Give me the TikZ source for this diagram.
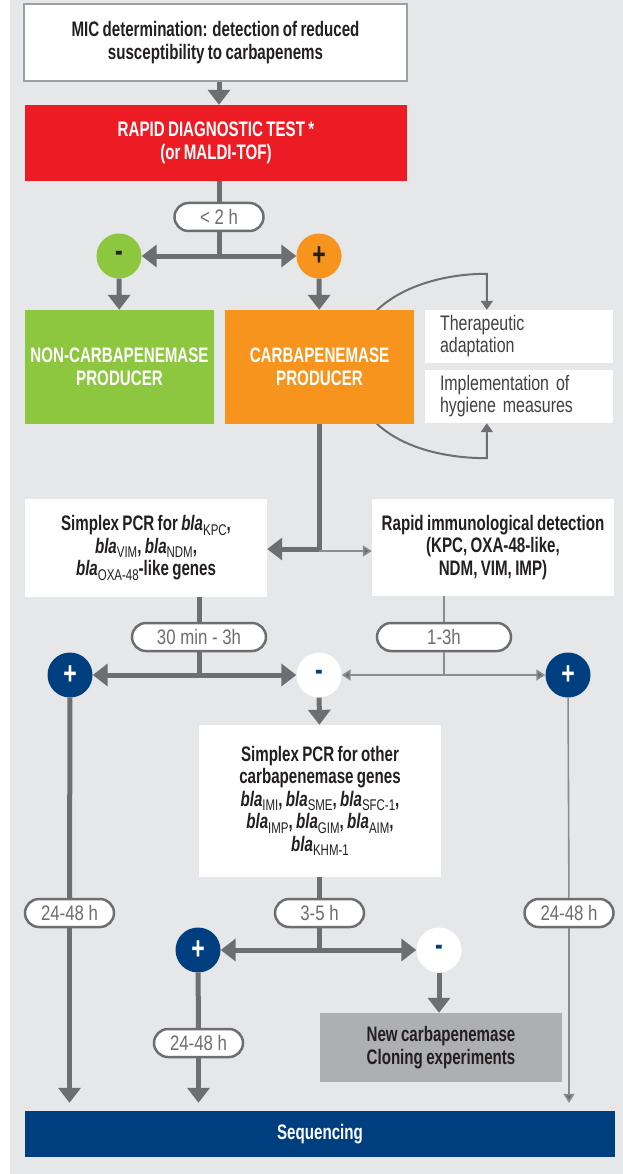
\documentclass[tikz,border=0pt]{standalone}
\usepackage{fontspec}
\setmainfont{Liberation Sans}[FakeStretch=0.72,WordSpace=0.8]
\newfontfamily\pillfont{Liberation Sans}[FakeStretch=0.8]
\newfontfamily\thinfont{Liberation Sans}[FakeStretch=0.76]
\newfontfamily\subfont{Liberation Sans}[FakeStretch=0.74]
\usetikzlibrary{arrows.meta,calc}
\pgfdeclarelayer{bglayer}
\pgfdeclarelayer{curvelayer}
\pgfsetlayers{bglayer,curvelayer,main}
\definecolor{bgc}{HTML}{E6E7E8}
\definecolor{lgray}{HTML}{6D6E71}
\definecolor{tgray}{HTML}{8A8C8F}
\definecolor{bordg}{HTML}{9D9FA2}
\definecolor{rdtred}{HTML}{ED1C24}
\definecolor{cgreen}{HTML}{8DC63F}
\definecolor{corange}{HTML}{F7941D}
\definecolor{navy}{HTML}{003F7F}
\definecolor{greybox}{HTML}{ADAFB2}
\definecolor{dtext}{HTML}{231F20}
\definecolor{mtext}{HTML}{414042}
\newcommand{\gsub}[1]{\raisebox{-4.5pt}{\subfont\mdseries\upshape\fontsize{15.5}{15.5}\selectfont #1}}
\newcommand{\bla}{\textit{bla}}
\newcommand{\tightsp}{\spaceskip=3.6pt plus 1pt\relax}
\tikzset{
  box/.style={rectangle, inner sep=0pt, align=center, font=\fontsize{21}{22.5}\selectfont\bfseries},
  wbox/.style={box, fill=white, text=dtext},
  pill/.style={rectangle, rounded corners=14pt, draw=lgray, line width=2.5pt, fill=white,
    minimum width=89pt, minimum height=28pt, inner sep=0pt, text=lgray, font=\pillfont\fontsize{21}{22}\selectfont},
  circ/.style={circle, minimum size=45pt, inner sep=0pt, font=\fontsize{32}{32}\selectfont\bfseries},
  thickl/.style={draw=lgray, line width=5pt},
  thicka/.style={draw=lgray, line width=5pt, -{Triangle[width=22pt,length=15pt]}},
  thinl/.style={draw=tgray, line width=1.6pt},
  thina/.style={draw=tgray, line width=1.6pt, -{Triangle[width=11pt,length=9pt,fill=lgray]}},
  curvea/.style={draw=lgray, line width=2pt, -{Triangle[width=12pt,length=9pt]}},
  sidebox/.style={rectangle, inner sep=0pt, fill=white, text=mtext, minimum width=188pt, minimum height=53pt,
    align=left, text width=158pt, font=\thinfont\fontsize{21}{22}\selectfont\tightsp},
}
\begin{document}
\begin{tikzpicture}[x=1pt,y=-1pt]
\useasboundingbox (0,0) rectangle (623,1174);
\begin{pgfonlayer}{bglayer}
\fill[bgc] (10,0) rectangle (623,1174);
\end{pgfonlayer}

% top
\node[wbox, draw=bordg, line width=2pt, minimum width=383pt, minimum height=77pt] (mic) at (215.5,42.5)
  {MIC determination: detection of reduced\\susceptibility to carbapenems};
\node[box, fill=rdtred, minimum width=382pt, minimum height=76pt, text=white] (rdt) at (216,143)
  {RAPID DIAGNOSTIC TEST *\\(or MALDI-TOF)};
\node[pill] (p1) at (219,217) {< 2 h};
\node[circ, fill=cgreen, text=dtext] (cneg) at (119,256) {-};
\node[circ, fill=corange, text=dtext] (cpos) at (319,256) {+};
\coordinate (j1) at (219,256);

\node[box, fill=cgreen, text=white, minimum width=189pt, minimum height=114pt] (ncp) at (119.5,367)
  {NON-CARBAPENEMASE\\PRODUCER};
\node[box, fill=corange, text=white, minimum width=189pt, minimum height=114pt] (cp) at (319.5,367)
  {CARBAPENEMASE\\PRODUCER};
\node[sidebox] (ther) at (519,336.5) {Therapeutic\\adaptation};
\node[sidebox] (hyg) at (519,396.5) {Implementation of\\hygiene measures};

% second level
\node[wbox, minimum width=242pt, minimum height=98pt] (pcr1) at (146,548)
  {Simplex PCR for \bla\gsub{KPC},\\\bla\gsub{VIM}, \bla\gsub{NDM},\\\bla\gsub{OXA-48}-like genes};
\node[wbox, minimum width=242pt, minimum height=97pt] (rid) at (493,547.5)
  {Rapid immunological detection\\(KPC, OXA-48-like,\\NDM, VIM, IMP)};
\coordinate (j2) at (319,549);

\node[pill, minimum width=134pt] (p2) at (199,637) {30 min - 3h};
\node[pill, minimum width=134pt] (p3) at (444,637) {1-3h};
\node[circ, fill=navy, text=white] (c2l) at (70,675) {+};
\node[circ, fill=white, text=navy] (c2m) at (319,675) {-};
\node[circ, fill=navy, text=white] (c2r) at (568,675) {+};
\coordinate (j3) at (199,675);
\coordinate (j4) at (444,675);

\node[wbox, minimum width=242pt, minimum height=152pt] (pcr2) at (320,801)
  {Simplex PCR for other\\carbapenemase genes\\\bla\gsub{IMI}, \bla\gsub{SME}, \bla\gsub{SFC-1},\\\bla\gsub{IMP}, \bla\gsub{GIM}, \bla\gsub{AIM},\\\bla\gsub{KHM-1}};

\node[pill] (p4) at (69.5,913) {24-48 h};
\node[pill] (p5) at (319.5,913) {3-5 h};
\node[pill] (p6) at (569,913) {24-48 h};
\node[circ, fill=navy, text=white] (c3p) at (198,950) {+};
\node[circ, fill=white, text=navy] (c3m) at (439,950) {-};
\coordinate (j5) at (319.5,950);
\node[pill] (p7) at (198.5,1043) {24-48 h};
\node[box, fill=greybox, text=dtext, minimum width=242pt, minimum height=69pt] (newc) at (441,1047.5)
  {New carbapenemase\\Cloning experiments};
\node[box, fill=navy, text=white, minimum width=590pt, minimum height=46pt] (seq) at (320,1134)
  {Sequencing};

% connectors
\draw[thicka] (p1 |- mic.south) -- (p1 |- rdt.north);
\draw[thickl] (p1 |- rdt.south) -- (p1.north);
\draw[thickl] (p1.south) -- (j1);
\draw[thicka] (j1) -- (cneg);
\draw[thicka] (j1) -- (cpos);
\draw[thicka] (cneg) -- (ncp);
\draw[thicka] (cpos) -- (cp);

\begin{pgfonlayer}{curvelayer}
\draw[curvea] ($(cp.north east)+(-46,10)$) .. controls +(25,-32) and +(-45,0) .. ([xshift=62pt,yshift=36pt]ther.north west) -- ([xshift=62pt]ther.north west);
\draw[curvea] ($(cp.south east)+(-46,-10)$) .. controls +(25,32) and +(-45,0) .. ([xshift=62pt,yshift=-35pt]hyg.south west) -- ([xshift=62pt]hyg.south west);
\end{pgfonlayer}

\draw[thickl] (j2 |- cp.south) -- (j2);
\draw[thicka] ([xshift=2.5pt]j2) -- (j2 -| pcr1.east);
\draw[thina] ([yshift=-2pt]j2) -- ([yshift=-2pt]j2 -| rid.west);

\draw[thickl] (p2 |- pcr1.south) -- (p2.north);
\draw[thickl] (p2.south) -- (j3);
\draw[thicka] (j3) -- (c2l);
\draw[thicka] (j3) -- (c2m);
\draw[thinl] (p3 |- rid.south) -- (p3.north);
\draw[thinl] (p3.south) -- (j4);
\draw[thina] (j4) -- (c2m);
\draw[thina] (j4) -- (c2r);
\draw[thicka] (c2m) -- (pcr2);

\draw[thickl] (c2l) -- (p4);
\draw[thicka] (p4) -- ([yshift=8pt]seq.north -| p4);
\draw[thinl] (c2r) -- (p6);
\draw[thina] (p6) -- ([yshift=8pt]seq.north -| p6);

\draw[thickl] (pcr2.south -| p5) -- (p5.north);
\draw[thickl] (p5.south) -- (j5);
\draw[thicka] (j5) -- (c3p);
\draw[thicka] (j5) -- (c3m);
\draw[thickl] (c3p) -- (p7);
\draw[thicka] (p7) -- ([yshift=8pt]seq.north -| p7);
\draw[thicka] (c3m) -- (newc.north -| c3m);
\end{tikzpicture}
\end{document}
